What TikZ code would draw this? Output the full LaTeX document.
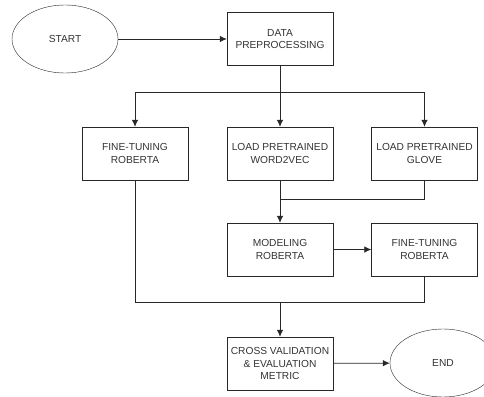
\documentclass[tikz,border=0pt]{standalone}
\usepackage{fontspec}
\setmainfont{Liberation Sans}
\usepackage{tikz}
\definecolor{mytext}{RGB}{51,51,51}
\definecolor{myline}{RGB}{40,40,40}
\usetikzlibrary{shapes.geometric,arrows.meta,positioning}
\tikzstyle{block}=[draw=myline,rectangle,minimum width=106pt,minimum height=53pt,inner sep=0pt,align=center,text=mytext,font=\fontsize{10.2}{12.4}\selectfont]
\tikzstyle{terminal}=[draw=myline,ellipse,minimum width=106pt,minimum height=68pt,inner sep=0pt,text=mytext,font=\fontsize{10.2}{12.4}\selectfont]
\tikzstyle{link}=[draw=myline,line width=0.8pt]
\tikzstyle{flow}=[link,-{Latex[length=7pt,width=6.5pt]}]

\begin{document}
\begin{tikzpicture}[x=1pt,y=-1pt]
\useasboundingbox (0,0) rectangle (484,396);
\node [terminal] (start) at (65,39) {START};
\node [block] (prep) at (280,39) {DATA\\PREPROCESSING};
\node [block] (fine) at (135,153.5) {FINE-TUNING\\ROBERTA};
\node [block] (word) at (280,153.5) {LOAD PRETRAINED\\WORD2VEC};
\node [block] (glove) at (424.5,153.5) {LOAD PRETRAINED\\GLOVE};
\node [block] (model) at (280,249.5) {MODELING\\ROBERTA};
\node [block] (tune) at (424.5,249.5) {FINE-TUNING\\ROBERTA};
\node [block] (eval) at (280,363.5) {CROSS VALIDATION\\\& EVALUATION\\METRIC};
\node [terminal] (finish) at (443,363) {END};

\coordinate (split) at (280,92);
\coordinate (merge) at (280,199);
\coordinate (join) at (280,302);

\draw [flow] (start) -- (prep);
\draw [flow] (prep) -- (word);
\draw [flow] (split) -| (fine);
\draw [flow] (split) -| (glove);
\draw [link] (word) -- (merge);
\draw [link] (glove.south) |- (merge);
\draw [flow] (merge) -- (model);
\draw [flow] (model) -- (tune);
\draw [link] (fine.south) |- (join);
\draw [link] (tune.south) |- (join);
\draw [flow] (join) -- (eval);
\draw [flow] (eval) -- (finish);
\end{tikzpicture}
\end{document}
